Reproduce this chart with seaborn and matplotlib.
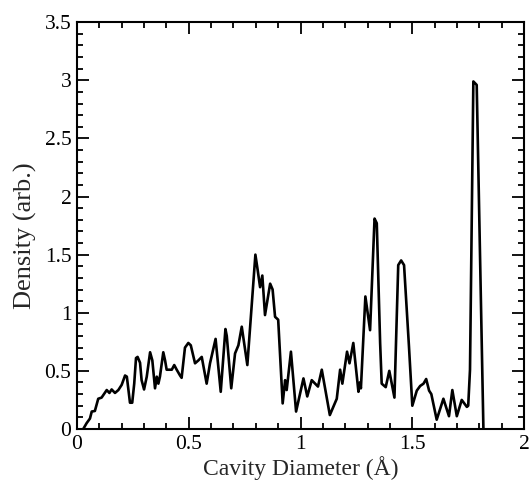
import numpy as np
import pandas as pd
import seaborn as sns
import matplotlib
matplotlib.use("Agg")
import matplotlib.pyplot as plt
from matplotlib.ticker import MultipleLocator, FormatStrFormatter

# cavity diameter (A) and density (arb.)
diameter = [0.028, 0.043, 0.058, 0.066, 0.08, 0.095, 0.11, 0.133, 0.145, 0.155,
            0.17, 0.185, 0.2, 0.215, 0.223, 0.233, 0.237, 0.247, 0.256, 0.264,
            0.271, 0.282, 0.289, 0.3, 0.312, 0.327, 0.337, 0.349, 0.357, 0.364,
            0.371, 0.386, 0.394, 0.401, 0.424, 0.435, 0.446, 0.461, 0.468, 0.483,
            0.498, 0.509, 0.528, 0.543, 0.558, 0.58, 0.595, 0.62, 0.643, 0.664,
            0.67, 0.69, 0.707, 0.722, 0.737, 0.762, 0.781, 0.798, 0.808, 0.819,
            0.829, 0.841, 0.864, 0.875, 0.886, 0.9, 0.92, 0.931, 0.938, 0.957,
            0.98, 1.013, 1.03, 1.05, 1.078, 1.095, 1.131, 1.162, 1.177, 1.187,
            1.208, 1.219, 1.236, 1.259, 1.265, 1.27, 1.29, 1.311, 1.331, 1.341,
            1.356, 1.363, 1.381, 1.397, 1.42, 1.437, 1.45, 1.463, 1.485, 1.5,
            1.52, 1.535, 1.55, 1.562, 1.575, 1.585, 1.609, 1.639, 1.664, 1.679,
            1.699, 1.721, 1.744, 1.75, 1.758, 1.773, 1.788, 1.818]
density = [0.0, 0.05, 0.09, 0.15, 0.155, 0.26, 0.27, 0.335, 0.31, 0.34,
           0.31, 0.335, 0.38, 0.46, 0.45, 0.29, 0.226, 0.226, 0.39, 0.61,
           0.62, 0.57, 0.42, 0.34, 0.45, 0.66, 0.59, 0.35, 0.45, 0.39,
           0.45, 0.66, 0.59, 0.51, 0.51, 0.55, 0.51, 0.46, 0.44, 0.70,
           0.74, 0.72, 0.565, 0.59, 0.62, 0.39, 0.565, 0.775, 0.32, 0.86,
           0.8, 0.35, 0.65, 0.72, 0.88, 0.55, 1.05, 1.5, 1.37, 1.22,
           1.32, 0.98, 1.25, 1.2, 0.965, 0.94, 0.22, 0.42, 0.335, 0.665,
           0.15, 0.435, 0.28, 0.42, 0.365, 0.51, 0.12, 0.26, 0.51, 0.39,
           0.665, 0.565, 0.74, 0.32, 0.4, 0.35, 1.14, 0.85, 1.81, 1.77,
           0.74, 0.39, 0.36, 0.5, 0.27, 1.41, 1.45, 1.41, 0.71, 0.2,
           0.33, 0.37, 0.39, 0.43, 0.33, 0.3, 0.08, 0.26, 0.11, 0.335,
           0.11, 0.25, 0.19, 0.2, 0.51, 2.99, 2.96, 0.0]

df = pd.DataFrame({"diameter": diameter, "density": density})

sns.set_style("ticks")
plt.rcParams["font.family"] = ["Liberation Serif", "DejaVu Serif"]

fig = plt.figure(figsize=(5.31, 4.82), dpi=100)
ax = fig.add_axes([0.145, 0.110, 0.842, 0.844])

sns.lineplot(data=df, x="diameter", y="density", color="black", linewidth=1.9,
             sort=False, ax=ax, solid_joinstyle="round", solid_capstyle="round")

ax.set_xlim(0, 2)
ax.set_ylim(0, 3.5)
ax.xaxis.set_major_locator(MultipleLocator(0.5))
ax.xaxis.set_minor_locator(MultipleLocator(0.1))
ax.yaxis.set_major_locator(MultipleLocator(0.5))
ax.yaxis.set_minor_locator(MultipleLocator(0.1))
ax.xaxis.set_major_formatter(FormatStrFormatter("%g"))
ax.yaxis.set_major_formatter(FormatStrFormatter("%g"))

ax.tick_params(which="both", direction="in", top=True, right=True,
               width=1.3, colors="black", labelsize=15.5)
ax.tick_params(which="major", length=8.5, pad=4)
ax.tick_params(which="minor", length=4)
for s in ax.spines.values():
    s.set_linewidth(1.5)
    s.set_color("black")

ax.set_xlabel("Cavity Diameter (Å)", fontsize=17, labelpad=2)
ax.set_ylabel("Density (arb.)", fontsize=19)
ax.yaxis.set_label_coords(-0.09, 0.474)

fig.savefig("out.png", dpi=100)
